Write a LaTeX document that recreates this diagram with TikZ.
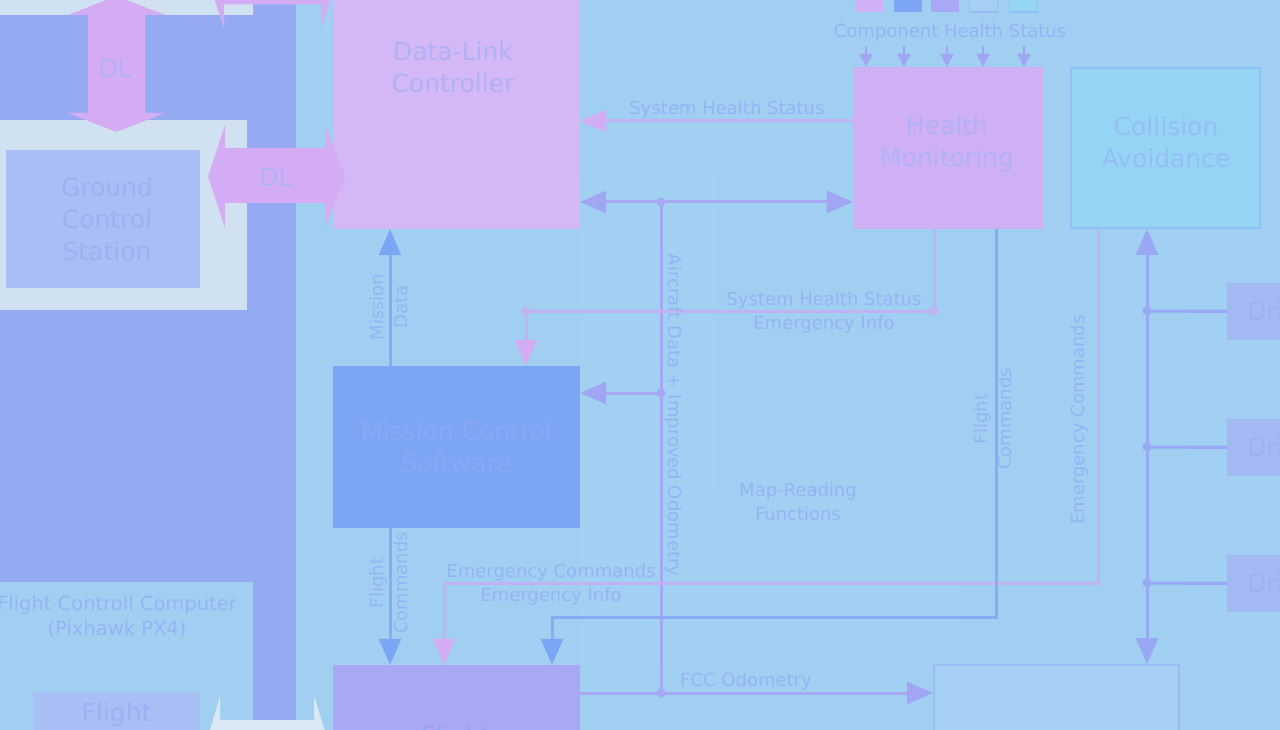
\documentclass[tikz,border=0pt]{standalone}
\usepackage{fontspec}
\setmainfont{DejaVu Sans}
\usetikzlibrary{arrows.meta}
\definecolor{bgc}{HTML}{A0CFF2}
\definecolor{darkreg}{HTML}{96AAF4}
\definecolor{whitish}{HTML}{D0E2F2}
\definecolor{gcsc}{HTML}{A8BEF4}
\definecolor{dlpink}{HTML}{D3ACF4}
\definecolor{dlbox}{HTML}{D4B8F6}
\definecolor{hmbox}{HTML}{D0B0F4}
\definecolor{cabox}{HTML}{96D4F4}
\definecolor{caedge}{HTML}{8EC2F4}
\definecolor{msbox}{HTML}{7CA6F4}
\definecolor{flbox}{HTML}{A8A8F4}
\definecolor{rbbox}{HTML}{A5D0F4}
\definecolor{rbedge}{HTML}{9CBAF4}
\definecolor{dribox}{HTML}{A4B8F4}
\definecolor{pinkln}{HTML}{C2B2F4}
\definecolor{pinktip}{HTML}{D4ACF4}
\definecolor{purpln}{HTML}{A6A8F4}
\definecolor{purptip}{HTML}{A2A4F4}
\definecolor{blueln}{HTML}{88ACF4}
\definecolor{bluetip}{HTML}{7CA6F4}
\definecolor{colln}{HTML}{98A8F4}
\definecolor{txtbg}{HTML}{94B4F4}
\definecolor{txtpink}{HTML}{B0B2F4}
\definecolor{txtms}{HTML}{8AA9F4}
\definecolor{txtgcs}{HTML}{9EB0F4}
\definecolor{txtca}{HTML}{94BEF4}
\definecolor{txtfl}{HTML}{9AA2F4}
\definecolor{faint}{HTML}{A1D0F3}
\definecolor{whitearr}{HTML}{D8E8F4}
\begin{document}
\begin{tikzpicture}[x=1pt,y=-1pt,
  box/.style={inner sep=0pt, align=center, font=\fontsize{25}{32}\selectfont},
  lbl/.style={inner sep=0pt, align=center, text=txtbg, font=\fontsize{18}{24}\selectfont},
  pinkc/.style={draw=pinkln, line width=3pt},
  purpc/.style={draw=purpln, line width=3pt},
  bluec/.style={draw=blueln, line width=3pt},
  collc/.style={draw=colln, line width=3pt},
  pinkhead/.style={-{Triangle[length=26pt,width=22pt,color=pinktip]}},
  purphead/.style={-{Triangle[length=26pt,width=22pt,color=purptip]}},
  purpboth/.style={{Triangle[length=26pt,width=22pt,color=purptip]}-{Triangle[length=26pt,width=22pt,color=purptip]}},
  bluehead/.style={-{Triangle[length=26pt,width=22pt,color=bluetip]}},
  collboth/.style={{Triangle[length=26pt,width=22pt,color=colln]}-{Triangle[length=26pt,width=22pt,color=colln]}},
  smallhead/.style={draw=purptip, line width=2pt, -{Triangle[length=13pt,width=13pt,color=purptip]}},
  jdot/.style={circle, inner sep=0pt, minimum size=9pt},
  legsq/.style={inner sep=0pt, minimum width=28pt, minimum height=28pt}
]
\useasboundingbox (0,0) rectangle (1280,730);
% background
\fill[bgc] (0,0) rectangle (1280,730);
\fill[faint] (580,172) -- (715,172) -- (715,492) -- (960,492) -- (960,665) -- (580,665) -- cycle;
% left region
\fill[whitish] (0,0) rectangle (253,15);
\fill[darkreg] (0,15) rectangle (296,582);
\fill[darkreg] (253,0) rectangle (296,730);
\fill[whitish] (0,120) rectangle (247,310);

% boxes
\node[box, fill=gcsc, minimum width=194pt, minimum height=138pt] (gcs) at (103,219) {};
\node[box, text=txtgcs] (gcst) at (107,219) {Ground\\Control\\Station};
\node[box, fill=gcsc, minimum width=167pt, minimum height=46pt, text=txtgcs] (flc) at (116.5,715) {Flight};
\node[lbl, font=\fontsize{19.5}{25}\selectfont] (fcc) at (117,617) {Flight Controll Computer\\(Pixhawk PX4)};

\node[box, fill=dlbox, minimum width=247pt, minimum height=323pt] (dl) at (456.5,67.5) {};
\node[box, text=txtpink] (dlt) at (453,67.5) {Data-Link\\Controller};
\node[box, fill=msbox, minimum width=247pt, minimum height=162pt, text=txtms] (ms) at (456.5,447) {Mission Control\\Software};
\node[box, fill=flbox, minimum width=247pt, minimum height=150pt] (fl) at (456.5,740) {};
\node[box, text=txtfl] (flt) at (456,738) {Flight};
\node[box, fill=hmbox, minimum width=190pt, minimum height=162pt] (hm) at (948,148) {};
\node[box, text=txtpink] (hmt) at (947,144) {Health\\Monitoring};
\node[box, fill=cabox, draw=caedge, line width=2pt, minimum width=189pt, minimum height=160pt] (ca) at (1165.5,148) {};
\node[box, text=txtca] (cat) at (1166,142) {Collision\\Avoidance};
\node[box, fill=rbbox, draw=rbedge, line width=2pt, minimum width=245pt, minimum height=160pt] (rb) at (1056.5,745) {};
\node[box, fill=dribox, anchor=west, minimum height=57pt, text width=93pt, inner xsep=20pt, align=left, text=txtgcs] (dr1) at (1227,311.5) {Drive};
\node[box, fill=dribox, anchor=west, minimum height=57pt, text width=93pt, inner xsep=20pt, align=left, text=txtgcs] (dr2) at (1227,447.5) {Drive};
\node[box, fill=dribox, anchor=west, minimum height=57pt, text width=93pt, inner xsep=20pt, align=left, text=txtgcs] (dr3) at (1227,583.5) {Drive};

% legend
\node[legsq, fill=hmbox] (lg1) at (869,-2) {};
\node[legsq, fill=msbox] (lg2) at (907.5,-2) {};
\node[legsq, fill=flbox] (lg3) at (945,-2) {};
\node[legsq, fill=rbbox, draw=rbedge, line width=1.5pt] (lg4) at (983.5,-2) {};
\node[legsq, fill=cabox, draw=caedge, line width=1.5pt] (lg5) at (1023.5,-2) {};
\node[lbl] (lgt) at (950,33) {Component Health Status};
\coordinate (la1) at (866,46);
\coordinate (la2) at (904,46);
\coordinate (la3) at (947,46);
\coordinate (la4) at (983,46);
\coordinate (la5) at (1024,46);
\foreach \i in {1,...,5} \draw[smallhead] (la\i) -- (la\i |- hm.north);

% DL block arrows
\fill[dlpink] (88,15) -- (68,15) -- (116.5,-4) -- (165,15) -- (145,15) -- (145,113) -- (165,113) -- (116.5,132) -- (68,113) -- (88,113) -- cycle;
\node[box, text=txtpink] (dlv) at (115,68) {DL};
\fill[dlpink] (225,148) -- (225,125) -- (208,176.5) -- (225,228) -- (225,203) -- (325,203) -- (325,228) -- (345,176.5) -- (325,125) -- (325,148) -- cycle;
\node[box, text=txtpink] (dlh) at (276,177) {DL};
\fill[dlpink] (224,-50.5) -- (224,-74) -- (207,-23) -- (224,28) -- (224,4.5) -- (321,4.5) -- (321,28) -- (338,-23) -- (321,-74) -- (321,-50.5) -- cycle;
\fill[whitearr] (220,720) -- (220,696) -- (205,747) -- (220,798) -- (220,775) -- (314,775) -- (314,798) -- (330,747) -- (314,696) -- (314,720) -- cycle;

% junction coordinates
\coordinate (y121) at (0,121);
\coordinate (j1) at (661,202);
\coordinate (j2) at (661,393);
\coordinate (j3) at (661,693);
\coordinate (p1) at (934,311);
\coordinate (p2) at (526,311);
\coordinate (mx) at (390,0);
\coordinate (e1) at (1098,583);
\coordinate (e2) at (444,583);
\coordinate (b1) at (996,617);
\coordinate (b2) at (552,617);
\coordinate (c1) at (1147,311);
\coordinate (c2) at (1147,447);
\coordinate (c3) at (1147,583);

% connectors
\draw[pinkc, pinkhead] (hm.west |- y121) -- (dl.east |- y121);
\draw[purpc, purpboth] (dl.east |- j1) -- (hm.west |- j1);
\draw[purpc] (j1) -- (j3);
\draw[purpc, purphead] (j2) -- (ms.east |- j2);
\draw[pinkc, pinkhead] (hm.south -| p1) -- (p1) -- (p2) -- (p2 |- ms.north);
\draw[bluec, bluehead] (ms.north -| mx) -- (dl.south -| mx);
\draw[bluec, bluehead] (ms.south -| mx) -- (fl.north -| mx);
\draw[pinkc, pinkhead] (ca.south -| e1) -- (e1) -- (e2) -- (e2 |- fl.north);
\draw[bluec, bluehead] (hm.south -| b1) -- (b1) -- (b2) -- (b2 |- fl.north);
\draw[purpc, purphead] (fl.east |- j3) -- (rb.west |- j3);
\draw[collc, collboth] (ca.south -| c1) -- (rb.north -| c1);
\draw[collc] (c1) -- (dr1.west);
\draw[collc] (c2) -- (dr2.west);
\draw[collc] (c3) -- (dr3.west);

% dots
\node[jdot, fill=purpln] (dj1) at (j1) {};
\node[jdot, fill=purpln] (dj2) at (j2) {};
\node[jdot, fill=purpln] (dj3) at (j3) {};
\node[jdot, fill=pinkln] (dp1) at (p1) {};
\node[jdot, fill=pinkln] (dp2) at (p2) {};
\node[jdot, fill=colln] (dc1) at (c1) {};
\node[jdot, fill=colln] (dc2) at (c2) {};
\node[jdot, fill=colln] (dc3) at (c3) {};

% labels
\node[lbl] (l1) at (727,110) {System Health Status};
\node[lbl] (l2) at (824,313) {System Health Status\\Emergency Info};
\node[lbl] (l3) at (551,585) {Emergency Commands\\Emergency Info};
\node[lbl] (l4) at (746,682) {FCC Odometry};
\node[lbl] (l5) at (798,502) {Map-Reading\\Functions};
\node[lbl, rotate=-90] (l6) at (673,415) {Aircraft Data + Improved Odometry};
\node[lbl, rotate=90] (l7) at (389,307) {Mission\\Data};
\node[lbl, rotate=90] (l8) at (389,583) {Flight\\Commands};
\node[lbl, rotate=90] (l9) at (993,419) {Flight\\Commands};
\node[lbl, rotate=90] (l10) at (1080,420) {Emergency Commands};
\end{tikzpicture}
\end{document}
